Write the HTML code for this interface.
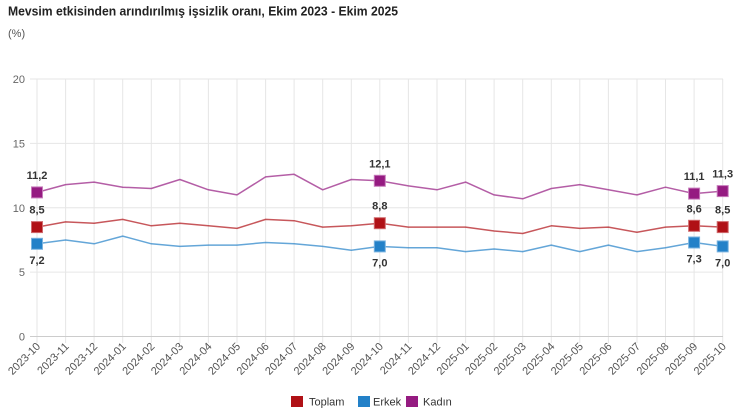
<!DOCTYPE html>
<html><head><meta charset="utf-8"><style>
html,body{margin:0;padding:0;background:#fff;}
svg{display:block;font-family:"Liberation Sans",Arial,sans-serif;}
</style></head><body>
<svg width="740" height="420" viewBox="0 0 740 420" xmlns="http://www.w3.org/2000/svg">
<rect width="740" height="420" fill="#fff"/>
<text x="8" y="15.5" font-size="13" font-weight="bold" fill="#222" textLength="390" lengthAdjust="spacingAndGlyphs">Mevsim etkisinden arındırılmış işsizlik oranı, Ekim 2023 - Ekim 2025</text>
<text x="8" y="37" font-size="11" fill="#555">(%)</text>
<g stroke="#e6e6e6" stroke-width="1">
<line x1="30" y1="79" x2="723" y2="79"/>
<line x1="30" y1="143.4" x2="723" y2="143.4"/>
<line x1="30" y1="207.8" x2="723" y2="207.8"/>
<line x1="30" y1="272.1" x2="723" y2="272.1"/>
</g>
<g stroke="#e6e6e6" stroke-width="1">
<line x1="37" y1="79" x2="37" y2="343"/><line x1="65.6" y1="79" x2="65.6" y2="343"/><line x1="94.1" y1="79" x2="94.1" y2="343"/><line x1="122.7" y1="79" x2="122.7" y2="343"/><line x1="151.3" y1="79" x2="151.3" y2="343"/><line x1="179.9" y1="79" x2="179.9" y2="343"/><line x1="208.4" y1="79" x2="208.4" y2="343"/><line x1="237" y1="79" x2="237" y2="343"/><line x1="265.6" y1="79" x2="265.6" y2="343"/><line x1="294.1" y1="79" x2="294.1" y2="343"/><line x1="322.7" y1="79" x2="322.7" y2="343"/><line x1="351.3" y1="79" x2="351.3" y2="343"/><line x1="379.8" y1="79" x2="379.8" y2="343"/><line x1="408.4" y1="79" x2="408.4" y2="343"/><line x1="437" y1="79" x2="437" y2="343"/><line x1="465.6" y1="79" x2="465.6" y2="343"/><line x1="494.1" y1="79" x2="494.1" y2="343"/><line x1="522.7" y1="79" x2="522.7" y2="343"/><line x1="551.3" y1="79" x2="551.3" y2="343"/><line x1="579.8" y1="79" x2="579.8" y2="343"/><line x1="608.4" y1="79" x2="608.4" y2="343"/><line x1="637" y1="79" x2="637" y2="343"/><line x1="665.5" y1="79" x2="665.5" y2="343"/><line x1="694.1" y1="79" x2="694.1" y2="343"/><line x1="722.7" y1="79" x2="722.7" y2="343"/>
</g>
<line x1="30" y1="336.5" x2="723" y2="336.5" stroke="#cccccc" stroke-width="1"/>
<g font-size="11" fill="#666" text-anchor="end">
<text x="25" y="83">20</text>
<text x="25" y="147.4">15</text>
<text x="25" y="211.8">10</text>
<text x="25" y="276.1">5</text>
<text x="25" y="340.5">0</text>
</g>
<g font-size="11" fill="#555" text-anchor="end">
<text transform="translate(41,347) rotate(-45)">2023-10</text>
<text transform="translate(69.6,347) rotate(-45)">2023-11</text>
<text transform="translate(98.1,347) rotate(-45)">2023-12</text>
<text transform="translate(126.7,347) rotate(-45)">2024-01</text>
<text transform="translate(155.3,347) rotate(-45)">2024-02</text>
<text transform="translate(183.9,347) rotate(-45)">2024-03</text>
<text transform="translate(212.4,347) rotate(-45)">2024-04</text>
<text transform="translate(241,347) rotate(-45)">2024-05</text>
<text transform="translate(269.6,347) rotate(-45)">2024-06</text>
<text transform="translate(298.1,347) rotate(-45)">2024-07</text>
<text transform="translate(326.7,347) rotate(-45)">2024-08</text>
<text transform="translate(355.3,347) rotate(-45)">2024-09</text>
<text transform="translate(383.8,347) rotate(-45)">2024-10</text>
<text transform="translate(412.4,347) rotate(-45)">2024-11</text>
<text transform="translate(441,347) rotate(-45)">2024-12</text>
<text transform="translate(469.6,347) rotate(-45)">2025-01</text>
<text transform="translate(498.1,347) rotate(-45)">2025-02</text>
<text transform="translate(526.7,347) rotate(-45)">2025-03</text>
<text transform="translate(555.3,347) rotate(-45)">2025-04</text>
<text transform="translate(583.8,347) rotate(-45)">2025-05</text>
<text transform="translate(612.4,347) rotate(-45)">2025-06</text>
<text transform="translate(641,347) rotate(-45)">2025-07</text>
<text transform="translate(669.5,347) rotate(-45)">2025-08</text>
<text transform="translate(698.1,347) rotate(-45)">2025-09</text>
<text transform="translate(726.7,347) rotate(-45)">2025-10</text>
</g>
<g fill="none" stroke-width="1.5" stroke-linejoin="round" opacity="0.7">
<polyline stroke="#951b81" points="37,192.4 65.6,184.6 94.1,182.1 122.7,187.2 151.3,188.5 179.9,179.5 208.4,189.8 237,194.9 265.6,176.9 294.1,174.3 322.7,189.8 351.3,179.5 379.8,180.8 408.4,185.9 437,189.8 465.6,182.1 494.1,194.9 522.7,198.8 551.3,188.5 579.8,184.6 608.4,189.8 637,194.9 665.5,187.2 694.1,193.6 722.7,191.1"/>
<polyline stroke="#b01116" points="37,227.1 65.6,221.9 94.1,223.2 122.7,219.4 151.3,225.8 179.9,223.2 208.4,225.8 237,228.4 265.6,219.4 294.1,220.7 322.7,227.1 351.3,225.8 379.8,223.2 408.4,227.1 437,227.1 465.6,227.1 494.1,231 522.7,233.5 551.3,225.8 579.8,228.4 608.4,227.1 637,232.3 665.5,227.1 694.1,225.8 722.7,227.1"/>
<polyline stroke="#2381c8" points="37,243.8 65.6,240 94.1,243.8 122.7,236.1 151.3,243.8 179.9,246.4 208.4,245.1 237,245.1 265.6,242.5 294.1,243.8 322.7,246.4 351.3,250.3 379.8,246.4 408.4,247.7 437,247.7 465.6,251.6 494.1,249 522.7,251.6 551.3,245.1 579.8,251.6 608.4,245.1 637,251.6 665.5,247.7 694.1,242.5 722.7,246.4"/>
</g>
<g stroke-width="1">
<g fill="#951b81" stroke="#c77bbb">
<rect x="31.5" y="186.9" width="11" height="11"/>
<rect x="374.3" y="175.3" width="11" height="11"/>
<rect x="688.6" y="188.1" width="11" height="11"/>
<rect x="717.2" y="185.6" width="11" height="11"/>
</g>
<g fill="#b01116" stroke="#d06a6d">
<rect x="31.5" y="221.6" width="11" height="11"/>
<rect x="374.3" y="217.7" width="11" height="11"/>
<rect x="688.6" y="220.3" width="11" height="11"/>
<rect x="717.2" y="221.6" width="11" height="11"/>
</g>
<g fill="#2381c8" stroke="#7ab3df">
<rect x="31.5" y="238.3" width="11" height="11"/>
<rect x="374.3" y="240.9" width="11" height="11"/>
<rect x="688.6" y="237" width="11" height="11"/>
<rect x="717.2" y="240.9" width="11" height="11"/>
</g>
</g>
<g font-size="11" font-weight="bold" fill="#333" text-anchor="middle">
<text x="37" y="179">11,2</text>
<text x="37" y="213.6">8,5</text>
<text x="37" y="263.8">7,2</text>
<text x="379.8" y="167.3">12,1</text>
<text x="379.8" y="209.7">8,8</text>
<text x="379.8" y="266.4">7,0</text>
<text x="694.1" y="180.1">11,1</text>
<text x="694.1" y="212.3">8,6</text>
<text x="694.1" y="262.3">7,3</text>
<text x="722.7" y="177.6">11,3</text>
<text x="722.7" y="213.6">8,5</text>
<text x="722.7" y="266.4">7,0</text>
</g>
<g font-size="11" fill="#333">
<rect x="291" y="396" width="12" height="11" fill="#b01116"/>
<text x="309" y="405.5">Toplam</text>
<rect x="358" y="396" width="12" height="11" fill="#2381c8"/>
<text x="373" y="405.5">Erkek</text>
<rect x="406" y="396" width="12" height="11" fill="#951b81"/>
<text x="423" y="405.5">Kadın</text>
</g>
</svg>
</body></html>
